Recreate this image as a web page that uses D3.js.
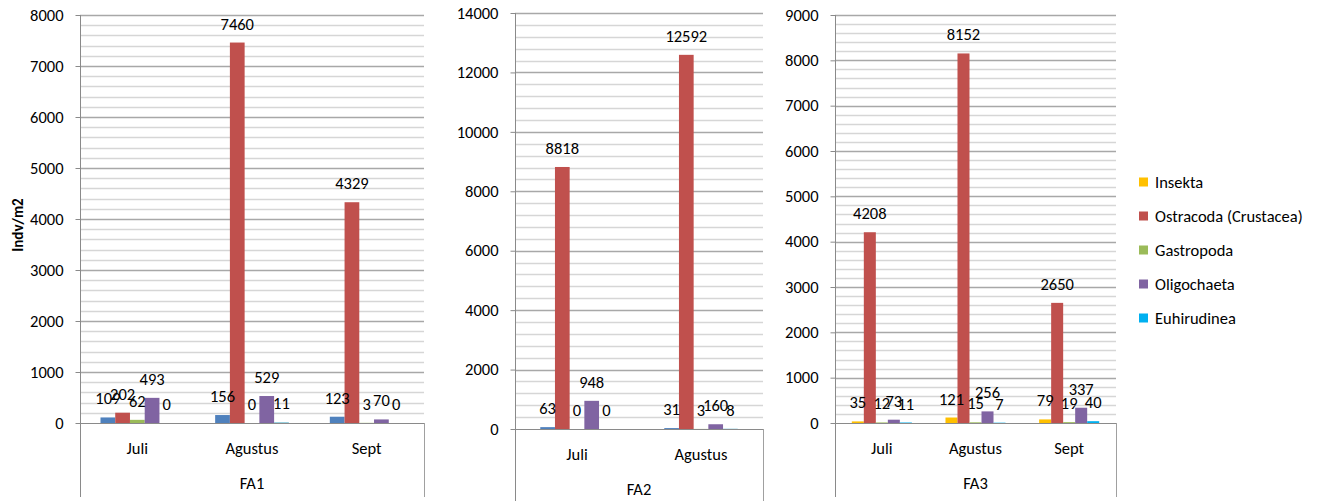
<!DOCTYPE html>
<html>
<head>
<meta charset="utf-8">
<script src="https://cdn.jsdelivr.net/npm/d3@7"></script>
<style>
  html, body { margin: 0; padding: 0; background: #fff; }
  svg { display: block; }
  text { font-family: Carlito, Calibri, Lato, sans-serif; fill: #000; }
</style>
</head>
<body>
<svg id="chart" width="1322" height="501"></svg>
<script>
// Taxa (series) shown in every panel
const taxa = ["Insekta", "Ostracoda (Crustacea)", "Gastropoda", "Oligochaeta", "Euhirudinea"];

// FA1: density per month, one row per month in taxa order
const fa1Months = ["Juli", "Agustus", "Sept"];
const fa1Juli = [109, 202, 62, 493, 0];
const fa1Agustus = [156, 7460, 0, 529, 11];
const fa1Sept = [123, 4329, 3, 70, 0];

// FA2
const fa2Months = ["Juli", "Agustus"];
const fa2Juli = [63, 8818, 0, 948, 0];
const fa2Agustus = [31, 12592, 3, 160, 8];

// FA3
const fa3Months = ["Juli", "Agustus", "Sept"];
const fa3Juli = [35, 4208, 12, 73, 11];
const fa3Agustus = [121, 8152, 15, 256, 7];
const fa3Sept = [79, 2650, 19, 337, 40];

// Value-axis tick labels per panel
const fa1Ticks = [0, 1000, 2000, 3000, 4000, 5000, 6000, 7000, 8000];
const fa2Ticks = [0, 2000, 4000, 6000, 8000, 10000, 12000, 14000];
const fa3Ticks = [0, 1000, 2000, 3000, 4000, 5000, 6000, 7000, 8000, 9000];

// Office palettes
const paletteDefault = ["#4F81BD", "#C0504D", "#9BBB59", "#8064A2", "#4BACC6"];
const paletteFA3 = ["#FFC000", "#C0504D", "#9BBB59", "#8064A2", "#00B0F0"];

const svg = d3.select("#chart");

const panels = [
  { name: "FA1", months: fa1Months, rows: [fa1Juli, fa1Agustus, fa1Sept], ticks: fa1Ticks, minor: 200,
    colors: paletteDefault, left: 80, right: 424, top: 15, zero: 423, bottom: 497, pad: 1.39 },
  { name: "FA2", months: fa2Months, rows: [fa2Juli, fa2Agustus], ticks: fa2Ticks, minor: 400,
    colors: paletteDefault, left: 515, right: 763, top: 13, zero: 429, bottom: 501, pad: 1.72 },
  { name: "FA3", months: fa3Months, rows: [fa3Juli, fa3Agustus, fa3Sept], ticks: fa3Ticks, minor: 200,
    colors: paletteFA3, left: 835, right: 1116, top: 15, zero: 423, bottom: 497, pad: 1.4 }
];

const FONT = 16.5;

panels.forEach(p => {
  const g = svg.append("g");
  const yMax = p.ticks[p.ticks.length - 1];
  const y = d3.scaleLinear().domain([0, yMax]).range([p.zero, p.top]);
  const x0 = d3.scaleBand().domain(p.months).range([p.left, p.right]).padding(0);
  const x1 = d3.scaleBand().domain(d3.range(taxa.length)).range([0, x0.bandwidth()])
    .paddingInner(0).paddingOuter(p.pad);

  // minor gridlines
  const minorVals = d3.range(0, yMax + 1, p.minor).filter(v => !p.ticks.includes(v));
  g.selectAll(".minor").data(minorVals).join("line")
    .attr("x1", p.left).attr("x2", p.right)
    .attr("y1", d => Math.round(y(d)) + 0.5).attr("y2", d => Math.round(y(d)) + 0.5)
    .attr("stroke", "#d6d6d6").attr("stroke-width", 1.4);

  // major gridlines
  g.selectAll(".major").data(p.ticks.filter(v => v > 0)).join("line")
    .attr("x1", p.left).attr("x2", p.right)
    .attr("y1", d => Math.round(y(d)) + 0.5).attr("y2", d => Math.round(y(d)) + 0.5)
    .attr("stroke", "#a8a8a8").attr("stroke-width", 1.4);

  // bars
  p.rows.forEach((row, i) => {
    const m = p.months[i];
    g.selectAll(null).data(row).join("rect")
      .attr("x", (d, j) => x0(m) + x1(j))
      .attr("width", x1.bandwidth())
      .attr("y", d => y(d))
      .attr("height", d => p.zero - y(d))
      .attr("fill", (d, j) => p.colors[j]);
  });

  // value axis
  const yAxis = d3.axisLeft(y).tickValues(p.ticks).tickSize(5).tickPadding(12)
    .tickFormat(d3.format("d"));
  const ya = g.append("g").attr("transform", `translate(${p.left + 0.5},0)`).call(yAxis);
  ya.select(".domain").remove();
  ya.selectAll(".tick line").attr("stroke", "#8a8a8a");
  ya.selectAll(".tick text").attr("font-size", FONT).attr("fill", "#000")
    .attr("font-family", "Carlito, Calibri, Lato, sans-serif");

  // axis frame: left axis runs full height, right edge drops from zero line
  g.append("line").attr("x1", p.left + 0.5).attr("x2", p.left + 0.5)
    .attr("y1", p.top).attr("y2", p.bottom).attr("stroke", "#8a8a8a");
  g.append("line").attr("x1", p.right + 0.5).attr("x2", p.right + 0.5)
    .attr("y1", p.zero).attr("y2", p.bottom).attr("stroke", "#a0a0a0");
  g.append("line").attr("x1", p.left).attr("x2", p.right)
    .attr("y1", p.zero + 0.5).attr("y2", p.zero + 0.5).attr("stroke", "#8a8a8a");

  // value labels above bars
  p.rows.forEach((row, i) => {
    const m = p.months[i];
    g.selectAll(null).data(row).join("text")
      .attr("x", (d, j) => x0(m) + x1(j) + x1.bandwidth() / 2)
      .attr("y", d => y(d) - 13)
      .attr("text-anchor", "middle")
      .attr("font-size", FONT)
      .text(d => d);
  });

  // month labels
  g.selectAll(".month").data(p.months).join("text")
    .attr("x", d => x0(d) + x0.bandwidth() / 2)
    .attr("y", p.zero + 31)
    .attr("text-anchor", "middle").attr("font-size", FONT)
    .text(d => d);

  // site label
  g.append("text").attr("x", (p.left + p.right) / 2).attr("y", p.zero + 66)
    .attr("text-anchor", "middle").attr("font-size", FONT).text(p.name);
});

// value axis title
svg.append("text")
  .attr("transform", "translate(23,225) rotate(-90)")
  .attr("text-anchor", "middle").attr("font-size", 15).attr("font-weight", "bold")
  .text("Indv/m2");

// legend
const legend = svg.append("g");
const legendY = d3.scalePoint().domain(taxa).range([182, 318]);
taxa.forEach((t, i) => {
  legend.append("rect").attr("x", 1139).attr("y", legendY(t) - 4.5)
    .attr("width", 9).attr("height", 9).attr("fill", paletteFA3[i]);
  legend.append("text").attr("x", 1155).attr("y", legendY(t) + 5.5)
    .attr("font-size", FONT).text(t);
});
</script>
</body>
</html>
